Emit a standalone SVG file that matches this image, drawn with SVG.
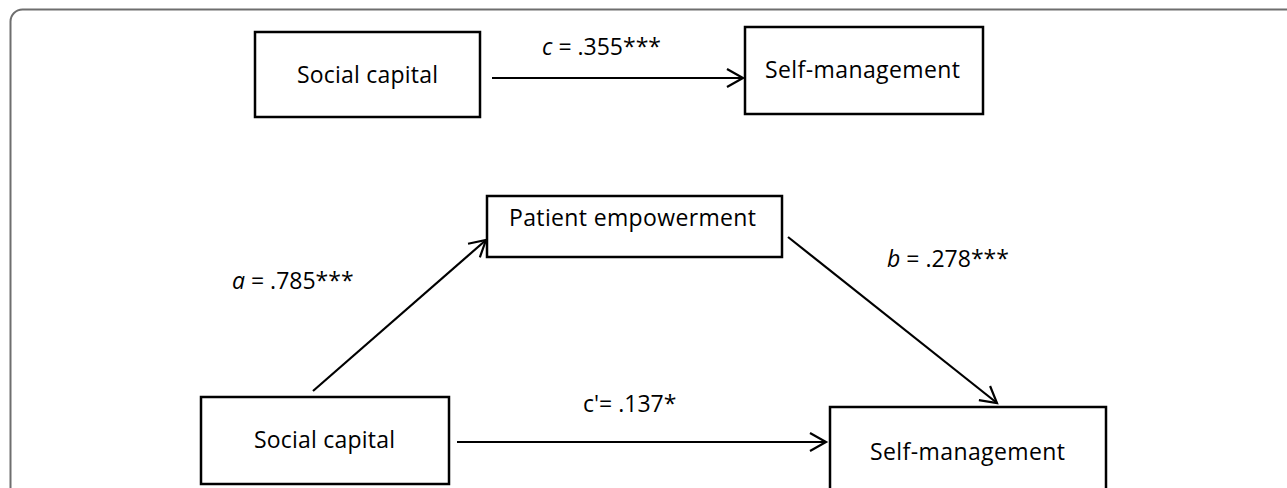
<svg xmlns="http://www.w3.org/2000/svg" width="1287" height="488" viewBox="0 0 1287 488">
<style>
.box{fill:#fff;stroke:#000;stroke-width:2.5}
.lbl{font-family:"Open Sans","Liberation Sans",sans-serif;font-size:23px;fill:#000}
.con{stroke:#000;stroke-width:2.2;fill:none}
</style>
<defs>
<marker id="arr" markerUnits="userSpaceOnUse" markerWidth="30" markerHeight="30" refX="0" refY="0" viewBox="-20 -15 25 30" orient="auto" overflow="visible">
<path d="M-16,-9 L0,0 L-16,9" fill="none" stroke="#000" stroke-width="2.2"/>
</marker>
</defs>
<rect width="1287" height="488" fill="#fff"/>
<rect x="10.5" y="9.5" width="1300" height="500" rx="12" fill="none" stroke="#6e6e6e" stroke-width="2"/>
<g id="connectors">
<line class="con" x1="492" y1="78" x2="743" y2="78" marker-end="url(#arr)"/>
<line class="con" x1="313" y1="391" x2="486" y2="240" marker-end="url(#arr)"/>
<line class="con" x1="788" y1="237" x2="997" y2="403" marker-end="url(#arr)"/>
<line class="con" x1="457" y1="442" x2="826" y2="442" marker-end="url(#arr)"/>
<text class="lbl" x="542" y="55"><tspan font-style="italic">c</tspan> = .355***</text>
<text class="lbl" x="232" y="289"><tspan font-style="italic">a</tspan> = .785***</text>
<text class="lbl" x="887" y="267"><tspan font-style="italic">b</tspan> = .278***</text>
<text class="lbl" x="583" y="412">c'= .137*</text>
</g>
<g id="n-social-top">
<rect class="box" x="255" y="32" width="225" height="85"/>
<text class="lbl" x="297" y="83" textLength="141">Social capital</text>
</g>
<g id="n-self-top">
<rect class="box" x="745" y="27" width="238" height="87"/>
<text class="lbl" x="765" y="78" textLength="195">Self-management</text>
</g>
<g id="n-patient">
<rect class="box" x="487" y="196" width="295" height="61"/>
<text class="lbl" x="509" y="226" textLength="247">Patient empowerment</text>
</g>
<g id="n-social-bottom">
<rect class="box" x="201" y="397" width="248" height="87"/>
<text class="lbl" x="254" y="448" textLength="141">Social capital</text>
</g>
<g id="n-self-bottom">
<rect class="box" x="830" y="407" width="276" height="90"/>
<text class="lbl" x="870" y="460" textLength="195">Self-management</text>
</g>
</svg>
